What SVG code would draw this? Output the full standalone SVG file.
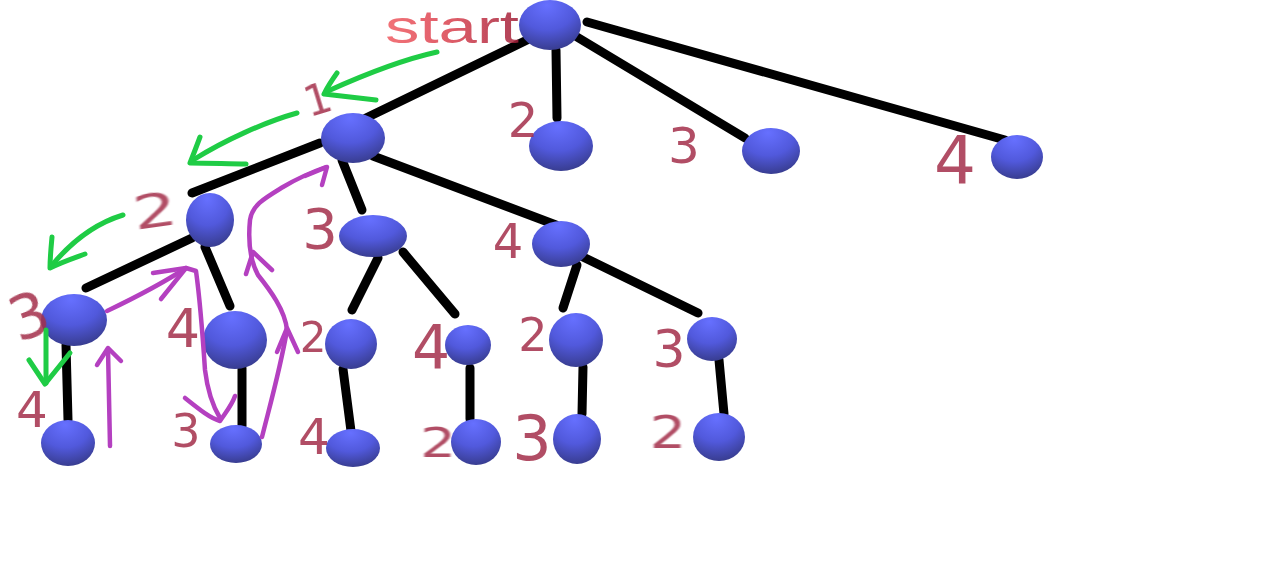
<svg xmlns="http://www.w3.org/2000/svg" width="1284" height="588" viewBox="0 0 1284 588">
<defs>
<radialGradient id="ball" cx="0.45" cy="0.2" r="0.9" fx="0.45" fy="0.1">
<stop offset="0" stop-color="#6670ff"/>
<stop offset="0.5" stop-color="#5159dc"/>
<stop offset="1" stop-color="#32367e"/>
</radialGradient>
<linearGradient id="startg" x1="0" y1="0" x2="1" y2="0">
<stop offset="0" stop-color="#f05a60"/>
<stop offset="0.5" stop-color="#d8404e"/>
<stop offset="1" stop-color="#a02038"/>
</linearGradient>
<filter id="chalk" x="-20%" y="-20%" width="140%" height="140%">
<feGaussianBlur stdDeviation="0.7"/>
</filter>
</defs>
<style>
.edge{stroke:#000;stroke-width:9;stroke-linecap:round;fill:none}
.node{fill:url(#ball)}
.lbl{font-family:"DejaVu Sans","Liberation Sans",sans-serif;fill:#a3304a;fill-opacity:0.85;text-anchor:middle;dominant-baseline:central;filter:url(#chalk)}
.green{stroke:#1fcc45;stroke-width:5;fill:none;stroke-linecap:round;stroke-linejoin:round}
.purple{stroke:#b440c0;stroke-width:4.5;fill:none;stroke-linecap:round;stroke-linejoin:round}
</style>
<rect width="1284" height="588" fill="#fff"/>
<g id="connectors">
<path class="edge" d="M527,40 L366,118"/>
<path class="edge" d="M556,50 L557,118"/>
<path class="edge" d="M577,37 L745,138"/>
<path class="edge" d="M587,22 L1005,140"/>
<path class="edge" d="M320,143 L192,193"/>
<path class="edge" d="M342,160 L362,210"/>
<path class="edge" d="M373,156 L556,225"/>
<path class="edge" d="M192,238 L86,288"/>
<path class="edge" d="M205,247 L230,306"/>
<path class="edge" d="M378,258 L352,310"/>
<path class="edge" d="M403,252 L455,314"/>
<path class="edge" d="M577,265 L563,308"/>
<path class="edge" d="M583,257 L698,313"/>
<path class="edge" d="M66,345 L68,420"/>
<path class="edge" d="M242,368 L242,426"/>
<path class="edge" d="M343,369 L351,431"/>
<path class="edge" d="M470,368 L470,419"/>
<path class="edge" d="M583,367 L582,414"/>
<path class="edge" d="M719,360 L724,414"/>
</g>
<g id="n-root"><ellipse class="node" cx="550" cy="25" rx="31" ry="25"/>
<text x="385" y="43" font-family="Liberation Sans, sans-serif" font-size="46" fill="url(#startg)" fill-opacity="0.85" filter="url(#chalk)" textLength="134" lengthAdjust="spacingAndGlyphs">start</text></g>
<g id="n-1"><ellipse class="node" cx="353" cy="138" rx="32" ry="25"/><text class="lbl" x="318" y="100" font-size="42" transform="rotate(-17 318 100)">1</text></g>
<g id="n-2"><ellipse class="node" cx="561" cy="146" rx="32" ry="25"/><text class="lbl" x="523" y="120" font-size="48">2</text></g>
<g id="n-3"><ellipse class="node" cx="771" cy="151" rx="29" ry="23"/><text class="lbl" x="684" y="146" font-size="50">3</text></g>
<g id="n-4"><ellipse class="node" cx="1017" cy="157" rx="26" ry="22"/><text class="lbl" x="955" y="160" font-size="66">4</text></g>
<g id="n-12"><ellipse class="node" cx="210" cy="220" rx="24" ry="27"/><text class="lbl" font-size="46" transform="translate(155 211) rotate(-8) scale(1.5 1)">2</text></g>
<g id="n-13"><ellipse class="node" cx="373" cy="236" rx="34" ry="21"/><text class="lbl" x="320" y="228" font-size="56">3</text></g>
<g id="n-14"><ellipse class="node" cx="561" cy="244" rx="29" ry="23"/><text class="lbl" x="508" y="241" font-size="48">4</text></g>
<g id="n-123"><ellipse class="node" cx="74" cy="320" rx="33" ry="26"/><text class="lbl" x="29" y="316" font-size="60" transform="rotate(-20 29 316)">3</text></g>
<g id="n-124"><ellipse class="node" cx="235" cy="340" rx="32" ry="29"/><text class="lbl" x="183" y="328" font-size="54">4</text></g>
<g id="n-132"><ellipse class="node" cx="351" cy="344" rx="26" ry="25"/><text class="lbl" x="313" y="337" font-size="42">2</text></g>
<g id="n-134"><ellipse class="node" cx="468" cy="345" rx="23" ry="20"/><text class="lbl" x="431" y="347" font-size="60">4</text></g>
<g id="n-142"><ellipse class="node" cx="576" cy="340" rx="27" ry="27"/><text class="lbl" x="533" y="335" font-size="46">2</text></g>
<g id="n-143"><ellipse class="node" cx="712" cy="339" rx="25" ry="22"/><text class="lbl" x="669" y="349" font-size="52">3</text></g>
<g id="n-1234"><ellipse class="node" cx="68" cy="443" rx="27" ry="23"/><text class="lbl" x="32" y="410" font-size="50">4</text></g>
<g id="n-1243"><ellipse class="node" cx="236" cy="444" rx="26" ry="19"/><text class="lbl" x="186" y="431" font-size="46">3</text></g>
<g id="n-1324"><ellipse class="node" cx="353" cy="448" rx="27" ry="19"/><text class="lbl" x="314" y="437" font-size="50">4</text></g>
<g id="n-1342"><ellipse class="node" cx="476" cy="442" rx="25" ry="23"/><text class="lbl" font-size="40" transform="translate(438 443) scale(1.4 1)">2</text></g>
<g id="n-1423"><ellipse class="node" cx="577" cy="439" rx="24" ry="25"/><text class="lbl" x="532" y="438" font-size="62">3</text></g>
<g id="n-1432"><ellipse class="node" cx="719" cy="437" rx="26" ry="24"/><text class="lbl" font-size="44" transform="translate(668 433) scale(1.3 1)">2</text></g>
<g id="traversal">
<path class="green" d="M437,52 C410,58 370,72 328,91"/>
<path class="green" d="M337,73 C332,80 328,86 324,94 C340,96 360,98 376,100"/>
<path class="green" d="M297,113 C265,122 225,140 193,160"/>
<path class="green" d="M200,137 C197,145 194,153 190,163 C210,163 230,164 246,164"/>
<path class="green" d="M123,215 C100,222 75,238 53,264"/>
<path class="green" d="M52,237 C51,248 50,258 50,268 C62,262 74,258 85,254"/>
<path class="green" d="M46,330 L46,383"/>
<path class="green" d="M29,360 L45,384 L70,353"/>
<path class="purple" d="M110,446 L108,349"/>
<path class="purple" d="M97,365 L108,348 L121,361"/>
<path class="purple" d="M107,311 C130,300 160,285 186,268 L196,271 C200,300 203,340 205,370 C208,395 214,408 220,418"/>
<path class="purple" d="M153,273 L186,268 L161,299"/>
<path class="purple" d="M185,398 C200,410 210,418 220,421 C226,412 232,405 235,396"/>
<path class="purple" d="M262,437 C270,405 280,370 287,330 C285,310 270,290 258,275 C250,260 248,240 250,220 C252,205 265,198 283,187 C298,178 312,172 326,167"/>
<path class="purple" d="M277,352 L287,328 L298,352"/>
<path class="purple" d="M246,274 L253,252 L272,270"/>
<path class="purple" d="M305,176 L327,167 L322,185"/>
</g>
</svg>
